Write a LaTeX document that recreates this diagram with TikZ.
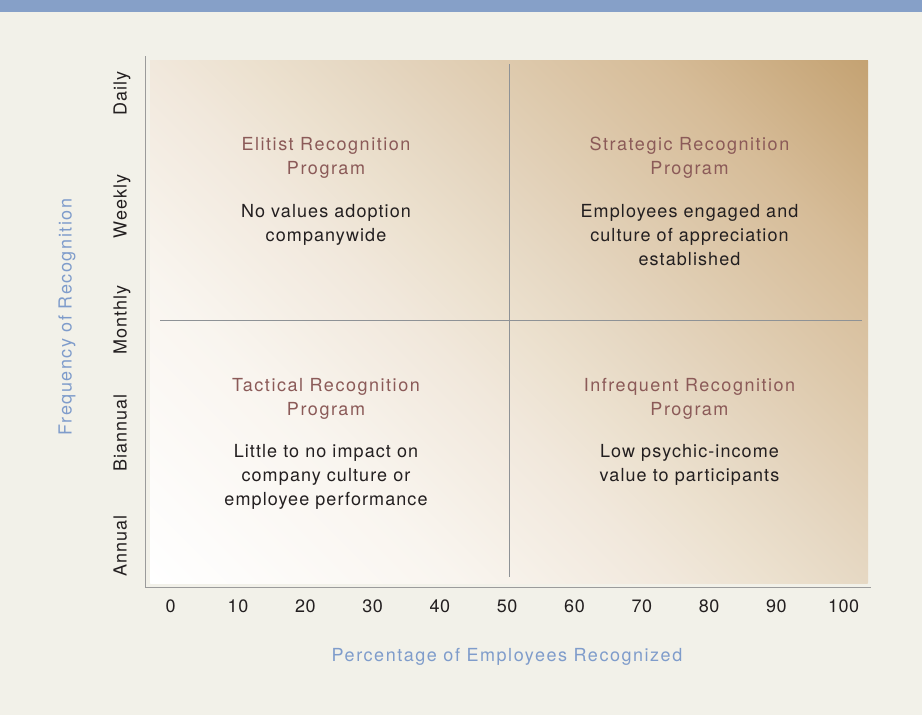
\documentclass[tikz,border=0pt]{standalone}
\usepackage{fontspec}
\setmainfont[LetterSpace=6]{TeX Gyre Heros}
\newfontfamily\widefont[LetterSpace=8.5]{TeX Gyre Heros}
\newfontfamily\tickfont[LetterSpace=3]{TeX Gyre Heros}

% palette
\definecolor{band}{HTML}{86A0C8}
\definecolor{paper}{HTML}{F2F1E9}
\definecolor{axisgray}{HTML}{9B9B9B}
\definecolor{divgray}{HTML}{8E9296}
\definecolor{quadtitle}{HTML}{8B5A58}
\definecolor{bodyink}{HTML}{231F20}
\definecolor{axisblue}{HTML}{7F9CCB}
% diagonal fill of the plot area, light at lower left, tan at upper right
\definecolor{gA}{HTML}{FFFFFF}
\definecolor{gB}{HTML}{F9F5EF}
\definecolor{gC}{HTML}{F1E8DC}
\definecolor{gD}{HTML}{ECE1CF}
\definecolor{gE}{HTML}{E6D8C3}
\definecolor{gF}{HTML}{D6BC98}
\definecolor{gG}{HTML}{C4A272}
\pgfdeclarehorizontalshading{quadfill}{100bp}{%
  color(0bp)=(gA); color(25bp)=(gA); color(37.5bp)=(gB); color(46bp)=(gC);
  color(50bp)=(gD); color(54bp)=(gE); color(66.5bp)=(gF); color(75bp)=(gG);
  color(100bp)=(gG)}

% multi-line nodes below are placed by the baseline of their last line
\tikzset{
  txt/.style={inner sep=0pt, font=\fontsize{18}{24}\selectfont},
  widetxt/.style={inner sep=0pt, font=\fontsize{18}{24}\selectfont\widefont},
  quadhead/.style={widetxt, align=center, text=quadtitle, anchor=base},
  quadbody/.style={txt, align=center, text=bodyink, anchor=base},
  tick/.style={inner sep=0pt, font=\fontsize{18}{24}\selectfont\tickfont, text=bodyink, anchor=base},
  ytick/.style={txt, text=bodyink, anchor=base, rotate=90},
  axtitle/.style={widetxt, text=axisblue, anchor=base},
  axisline/.style={draw=axisgray, line width=1.3pt},
  divider/.style={draw=divgray, line width=1.1pt},
}

\begin{document}
\begin{tikzpicture}[x=1pt, y=-1pt]
\useasboundingbox (0,0) rectangle (922,715);
\fill[paper] (0,0) rectangle (922,715);
\fill[band] (0,0) rectangle (922,12);

% plot area fill
\begin{scope}
  \clip (150,60) rectangle (868,583);
  \begin{scope}[transform canvas={rotate around={45:(509,321.5)}}]
    \shade[shading=quadfill] (70.2,-117.3) rectangle (947.8,760.3);
  \end{scope}
\end{scope}

% axes
\coordinate (yTop) at (145.5,56);
\coordinate (origin) at (145.5,587.5);
\coordinate (xEnd) at (871,587.5);
\draw[axisline] (yTop) -- (origin) -- (xEnd);

% quadrant dividers
\coordinate (vTop) at (509.5,64);
\coordinate (vBot) at (509.5,577);
\coordinate (hLeft) at (160,320.3);
\coordinate (hRight) at (862,320.3);
\draw[divider] (vTop) -- (vBot);
\draw[divider] (hLeft) -- (hRight);

% quadrant captions
\node[quadhead] (eliteHead) at (326,174) {Elitist Recognition\\Program};
\node[quadbody] (eliteBody) at (326,241.7) {No values adoption\\companywide};
\node[quadhead] (stratHead) at (689.5,174) {Strategic Recognition\\Program};
\node[quadbody] (stratBody) at (689.5,265.7) {Employees engaged and\\culture of appreciation\\established};
\node[quadhead] (tactHead) at (326,415) {Tactical Recognition\\Program};
\node[quadbody] (tactBody) at (326,505.7) {Little to no impact on\\company culture or\\employee performance};
\node[quadhead] (infHead) at (689.5,415) {Infrequent Recognition\\Program};
\node[quadbody] (infBody) at (689.5,481.7) {Low psychic-income\\value to participants};

% x ticks
\foreach \v [count=\i] in {0,10,...,100}
  \node[tick] (xt\i) at ({170.7+6.73*\v},612.7) {\v};

% y ticks
\node[ytick] (yDaily) at (126.5,93.5) {Daily};
\node[ytick] (yWeekly) at (126.5,206.6) {Weekly};
\node[ytick] (yMonthly) at (126.5,319.7) {Monthly};
\node[ytick] (yBiannual) at (126.5,432.8) {Biannual};
\node[ytick] (yAnnual) at (126.5,546) {Annual};

% axis titles
\node[axtitle] (xTitle) at (507,661) {Percentage of Employees Recognized};
\node[axtitle, rotate=90] (yTitle) at (71.6,317) {Frequency of Recognition};
\end{tikzpicture}
\end{document}
